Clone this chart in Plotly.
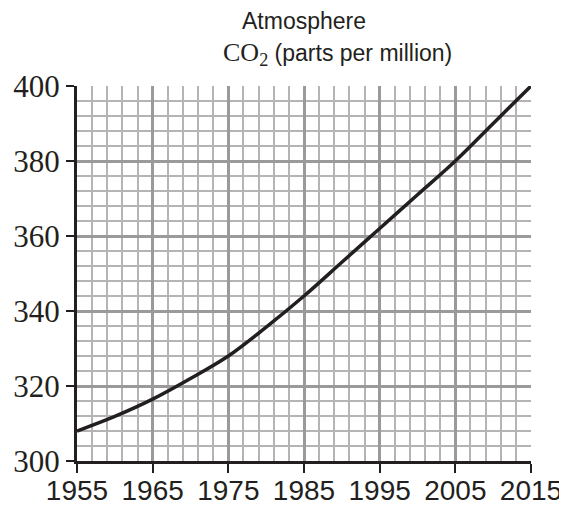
import plotly.graph_objects as go

years = [1955, 1960, 1965, 1970, 1975, 1980, 1985, 1990, 1995, 2000, 2005, 2010, 2015]
co2_ppm = [308, 311.9, 316.5, 322, 328, 335.7, 344, 353, 362, 371, 380, 390, 400]
x_ticks = [1955, 1965, 1975, 1985, 1995, 2005, 2015]
y_ticks = [300, 320, 340, 360, 380, 400]

fig = go.Figure()
fig.add_trace(go.Scatter(
    x=years, y=co2_ppm, mode="lines",
    line=dict(color="#231f20", width=3.5, shape="spline", smoothing=1.0),
    hoverinfo="skip", showlegend=False,
))

title_font = dict(family="Liberation Sans, Arial, sans-serif", size=23, color="#231f20")
# page body has an 8px default margin, so the figure is sized 8px smaller on each axis
fig.update_layout(
    width=559, height=498,
    margin=dict(l=69, r=36, t=78, b=45, autoexpand=False),
    paper_bgcolor="white", plot_bgcolor="white",
    showlegend=False,
    annotations=[
        dict(text="Atmosphere", x=0.5, y=1.0, xref="paper", yref="paper", yshift=51,
             xanchor="center", yanchor="bottom", showarrow=False, font=title_font,
             borderpad=0),
        dict(text='<span style="font-family:\'Liberation Serif\', serif; font-size:26px">CO<sub>2</sub></span> (parts per million)',
             x=0.573, y=1.0, xref="paper", yref="paper", yshift=15,
             xanchor="center", yanchor="bottom", showarrow=False, font=title_font,
             borderpad=0),
    ],
)

fig.update_xaxes(
    range=[1955, 2015], tickvals=x_ticks, ticktext=[str(v) for v in x_ticks],
    showline=True, linecolor="#231f20", linewidth=3,
    ticks="outside", ticklen=9, tickwidth=2, tickcolor="#231f20",
    ticklabelstandoff=-7,
    showgrid=True, gridcolor="#9a9a9a", gridwidth=2.5,
    minor=dict(dtick=2, tick0=1955, showgrid=True, gridcolor="#b4b4b4", gridwidth=1.5),
    tickfont=dict(family="Liberation Sans, Arial, sans-serif", size=28, color="#231f20"),
    zeroline=False, fixedrange=True, automargin=False,
)
fig.update_yaxes(
    range=[300, 400], tickvals=y_ticks, ticktext=[str(v) for v in y_ticks],
    showline=True, linecolor="#231f20", linewidth=3,
    ticks="outside", ticklen=8, tickwidth=2, tickcolor="#231f20",
    showgrid=True, gridcolor="#9a9a9a", gridwidth=2.5,
    minor=dict(dtick=4, tick0=300, showgrid=True, gridcolor="#b4b4b4", gridwidth=1.5),
    tickfont=dict(family="Liberation Serif, Times New Roman, serif", size=31, color="#231f20"),
    zeroline=False, fixedrange=True, automargin=False,
)

fig.write_html("out.html")
